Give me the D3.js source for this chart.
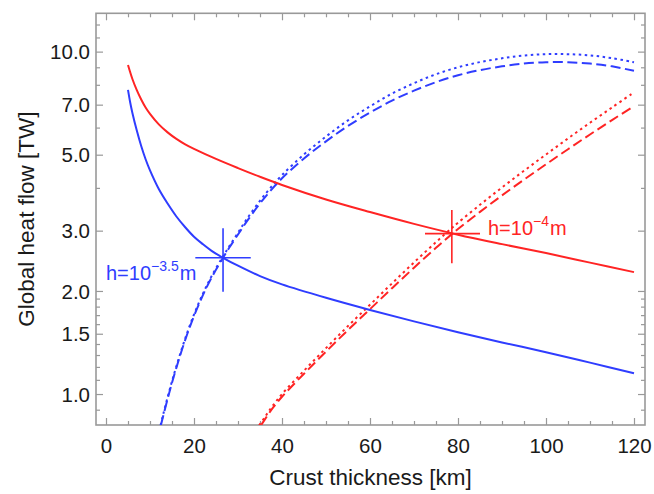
<!DOCTYPE html>
<html>
<head>
<meta charset="utf-8">
<script src="https://cdn.jsdelivr.net/npm/d3@7"></script>
<style>
  html, body { margin: 0; padding: 0; background: #fff; }
  svg { display: block; font-family: "Liberation Sans", Arial, Helvetica, sans-serif; }
</style>
</head>
<body>
<svg id="chart" width="654" height="494"></svg>
<script>
// Crust thickness (km) and global heat flow (TW) curves
const redSolidKm   = [5, 6, 7, 8, 9, 10, 12, 14, 16, 18, 20, 25, 30, 35, 40, 50, 60, 70, 80, 90, 100, 110, 120];
const redSolidTW   = [9.14, 8.32, 7.72, 7.25, 6.87, 6.58, 6.13, 5.81, 5.56, 5.36, 5.2, 4.86, 4.57, 4.31, 4.08, 3.7, 3.4, 3.14, 2.92, 2.74, 2.58, 2.42, 2.27];

const blueSolidKm  = [5, 5.5, 6, 7, 8, 9, 10, 12, 14, 16, 18, 20, 22, 24, 26.6, 30, 35, 40, 50, 60, 70, 80, 90, 100, 110, 120];
const blueSolidTW  = [7.73, 7.1, 6.62, 5.88, 5.3, 4.85, 4.5, 3.97, 3.6, 3.3, 3.07, 2.88, 2.74, 2.62, 2.5, 2.37, 2.21, 2.09, 1.91, 1.76, 1.63, 1.515, 1.415, 1.325, 1.235, 1.15];

const blueDashKm   = [12.5, 13, 14, 15, 16, 18, 20, 22, 24, 26.6, 28, 30, 32, 34.6, 37, 40, 45, 50, 55, 60, 65, 70, 75, 80, 85, 90, 95, 100, 105, 110, 115, 120];
const blueDashTW   = [0.813, 0.863, 0.968, 1.079, 1.194, 1.439, 1.69, 1.941, 2.188, 2.5, 2.673, 2.924, 3.192, 3.548, 3.873, 4.266, 4.875, 5.47, 6.067, 6.637, 7.194, 7.691, 8.147, 8.531, 8.831, 9.057, 9.226, 9.311, 9.311, 9.226, 9.057, 8.79];

const blueDotKm    = [12.4, 13, 14, 15, 16, 18, 20, 22, 24, 26.6, 28, 30, 32, 34.6, 37, 40, 45, 50, 55, 60, 65, 70, 75, 80, 85, 90, 95, 100, 105, 110, 115, 120];
const blueDotTW    = [0.81, 0.872, 0.978, 1.09, 1.206, 1.453, 1.707, 1.96, 2.21, 2.525, 2.7, 2.96, 3.244, 3.61, 3.95, 4.36, 5.01, 5.65, 6.3, 6.92, 7.54, 8.09, 8.59, 9.0, 9.32, 9.56, 9.74, 9.83, 9.83, 9.75, 9.57, 9.31];

const redDashKm    = [35.3, 36, 37, 38, 40, 45, 50, 55, 60, 65, 70, 75, 78.6, 80, 85, 90, 95, 100, 105, 110, 115, 120];
const redDashTW    = [0.813, 0.839, 0.877, 0.914, 0.982, 1.146, 1.33, 1.538, 1.77, 2.037, 2.339, 2.673, 2.931, 3.034, 3.404, 3.802, 4.227, 4.688, 5.188, 5.728, 6.31, 6.934];

const redDotKm     = [34.8, 36, 37, 38, 40, 45, 50, 55, 60, 65, 70, 75, 78.6, 80, 85, 90, 95, 100, 105, 110, 115, 120];
const redDotTW     = [0.81, 0.852, 0.891, 0.928, 1.0, 1.17, 1.362, 1.58, 1.823, 2.104, 2.423, 2.778, 3.054, 3.165, 3.57, 4.011, 4.487, 5.007, 5.577, 6.198, 6.868, 7.607];

// Estimates with uncertainty ranges
const blueEstimate = { km: 26.6, tw: 2.5, kmLo: 20.3, kmHi: 32.9, twLo: 1.99, twHi: 3.05 };
const redEstimate  = { km: 78.6, tw: 2.94, kmLo: 72.5, kmHi: 85.0, twLo: 2.41, twHi: 3.45 };

const xMajor = [0, 20, 40, 60, 80, 100, 120];
const xMinor = [5, 10, 15, 25, 30, 35, 45, 50, 55, 65, 70, 75, 85, 90, 95, 105, 110, 115];
const yMajor = [1.0, 1.5, 2.0, 3.0, 5.0, 7.0, 10.0];
const yMinor = [0.9, 1.1, 1.2, 1.3, 1.4, 1.6, 1.7, 1.8, 1.9, 4, 6, 8, 9, 11, 12];

const RED = "#ff2424";
const BLUE = "#2f3dff";
const FRAME = "#999999";

const svg = d3.select("#chart");
const L = 96, R = 645, T = 13.3, B = 425;

const x = d3.scaleLinear().domain([-2.273, 122.5]).range([L, R]);
const y = d3.scaleLog().domain([0.812, 12.94]).range([B, T]);

svg.append("defs").append("clipPath").attr("id", "plotclip")
  .append("rect").attr("x", L).attr("y", T).attr("width", R - L).attr("height", B - T);

// Frame ticks (pointing inwards) on all four sides
function tickAxis(axisFn, scale, vals, size, transform, labels) {
  const a = axisFn(scale).tickValues(vals).tickSizeInner(-size).tickSizeOuter(0);
  if (!labels) a.tickFormat("");
  const g = svg.append("g").attr("transform", transform).call(a);
  g.select(".domain").remove();
  g.selectAll(".tick line").attr("stroke", FRAME).attr("stroke-width", 1.2);
  return g;
}
tickAxis(d3.axisBottom, x, xMinor, 4, `translate(0,${B})`, false);
tickAxis(d3.axisTop, x, xMinor, 4, `translate(0,${T})`, false);
tickAxis(d3.axisTop, x, xMajor, 7, `translate(0,${T})`, false);
tickAxis(d3.axisLeft, y, yMinor, 4, `translate(${L},0)`, false);
tickAxis(d3.axisRight, y, yMinor, 4, `translate(${R},0)`, false);
tickAxis(d3.axisRight, y, yMajor, 7, `translate(${R},0)`, false);

const xAx = tickAxis(d3.axisBottom, x, xMajor, 7, `translate(0,${B})`, true);
xAx.selectAll(".tick text").attr("font-size", 20.5).attr("fill", "#1a1a1a")
  .attr("dy", 0).attr("y", 28);
const yAx = tickAxis(d3.axisLeft, y, yMajor, 7, `translate(${L},0)`, true);
yAx.call(g => g.selectAll(".tick text").text(d => d3.format(".1f")(d)));
yAx.selectAll(".tick text").attr("font-size", 20.5).attr("fill", "#1a1a1a")
  .attr("x", -6).attr("dy", "0.35em");
svg.selectAll(".tick text").attr("font-family", "Liberation Sans, Arial, sans-serif");

// Frame
svg.append("rect").attr("x", L).attr("y", T).attr("width", R - L).attr("height", B - T)
  .attr("fill", "none").attr("stroke", FRAME).attr("stroke-width", 1.6);

// Curves
const line = d3.line().x(d => x(d[0])).y(d => y(d[1])).curve(d3.curveCatmullRom.alpha(0.5));
const plot = svg.append("g").attr("clip-path", "url(#plotclip)");
function curve(km, tw, color, dash) {
  plot.append("path").datum(km.map((k, i) => [k, tw[i]]))
    .attr("d", line).attr("fill", "none").attr("stroke", color)
    .attr("stroke-width", 2).attr("stroke-dasharray", dash || null);
}
curve(blueDotKm, blueDotTW, BLUE, "2.5,3.5");
curve(blueDashKm, blueDashTW, BLUE, "10,4.5");
curve(redDotKm, redDotTW, RED, "2.5,3.5");
curve(redDashKm, redDashTW, RED, "10,4.5");
curve(redSolidKm, redSolidTW, RED);
curve(blueSolidKm, blueSolidTW, BLUE);

// Error crosses
function cross(e, color) {
  const g = svg.append("g").attr("stroke", color).attr("stroke-width", 1.6);
  g.append("line").attr("x1", x(e.kmLo)).attr("x2", x(e.kmHi)).attr("y1", y(e.tw)).attr("y2", y(e.tw));
  g.append("line").attr("x1", x(e.km)).attr("x2", x(e.km)).attr("y1", y(e.twLo)).attr("y2", y(e.twHi));
}
cross(blueEstimate, BLUE);
cross(redEstimate, RED);

// Labels for the two h values
function hLabel(px, py, exp, color) {
  const t = svg.append("text").attr("x", px).attr("y", py).attr("fill", color).attr("font-size", 20);
  t.append("tspan").text("h=10");
  t.append("tspan").attr("dy", -9).attr("font-size", 14).text(exp);
  t.append("tspan").attr("dy", 9).attr("dx", 1).text("m");
}
hLabel(106, 280, "\u22123.5", BLUE);
hLabel(488, 235, "\u22124", RED);

// Axis titles
svg.append("text").attr("x", (L + R) / 2).attr("y", 485).attr("text-anchor", "middle")
  .attr("font-size", 22.5).attr("fill", "#1a1a1a").text("Crust thickness [km]");
svg.append("text").attr("transform", `translate(34,${(T + B) / 2}) rotate(-90)`)
  .attr("text-anchor", "middle").attr("font-size", 22.5).attr("fill", "#1a1a1a")
  .text("Global heat flow [TW]");
</script>
</body>
</html>
